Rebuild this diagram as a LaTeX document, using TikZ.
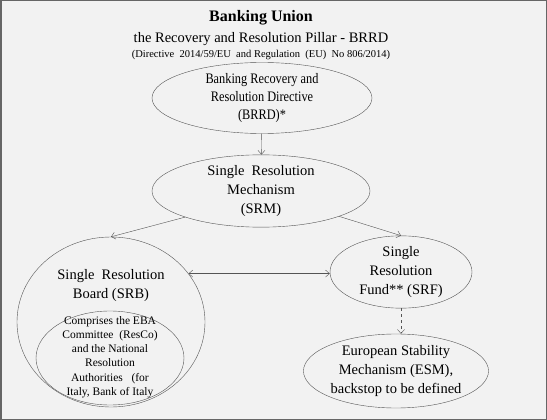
\documentclass[tikz,border=0pt]{standalone}
\usepackage{fontspec}
\setmainfont{Liberation Serif}
\newfontfamily\narrowserif[FakeStretch=0.85]{Liberation Serif}
\usetikzlibrary{shapes.geometric, arrows.meta}

\definecolor{paper}{HTML}{F2F2F2}
\definecolor{edge}{HTML}{555555}

\begin{document}
\begin{tikzpicture}[
    x=1pt, y=-1pt,
    blob/.style={ellipse, draw=edge, fill=paper, inner sep=0pt, align=center,
                 font=\fontsize{14.5}{19}\selectfont},
    small/.style={align=center, font=\fontsize{11.5}{14.2}\selectfont},
    link/.style={-{Straight Barb[length=4pt, width=7pt]}, draw=edge, thin}
]
    % frame and background
    \useasboundingbox (0,0) rectangle (547,420);
    \draw[fill=paper, draw=gray!80!black, line width=1.5pt] (0.75,0.75) rectangle (546.25,419.25);

    % Title (top)
    \node[font=\fontsize{16}{19}\selectfont\bfseries] (title) at (261,18) {Banking Union};
    \node[font=\fontsize{14.5}{17}\selectfont] (subtitle) at (261,39) {the Recovery and Resolution Pillar - BRRD};
    \node[font=\fontsize{10.5}{12}\selectfont] (law) at (261,55) {(Directive\ \ 2014/59/EU\ \ and Regulation\ \ (EU)\ \ No 806/2014)};

    % Ellipses
    \node[blob, minimum width=220, minimum height=71, font=\narrowserif\fontsize{14.5}{18}\selectfont] (brrd) at (262,98)
        {Banking Recovery and\\Resolution Directive\\(BRRD)*};
    \node[blob, minimum width=218, minimum height=71] (srm) at (261,191)
        {Single\ \ Resolution\\Mechanism\\(SRM)};
    \node[blob, minimum width=188, minimum height=170] (srb) at (111,322) {};
    \node[blob, draw=none, fill=none] (srbtext) at (111,286)
        {Single\ \ Resolution\\Board (SRB)};
    \node[blob, minimum width=148, minimum height=94] (inner) at (110,358) {};
    \node[small] (innertext) at (110,357)
        {Comprises the EBA\\Committee\ \ (ResCo)\\and the National\\Resolution\\Authorities\ \ \ (for\\Italy, Bank of Italy};
    \node[blob, minimum width=142, minimum height=71] (srf) at (401,272)
        {Single\\Resolution\\Fund** (SRF)};
    \node[blob, minimum width=178, minimum height=74] (esm) at (396,371)
        {European Stability\\Mechanism (ESM),\\backstop to be defined};

    % Connectors
    \draw[link] (brrd) -- (srm);
    \draw[link] (srm.199) -- (srb.north);
    \draw[link] (srm.342) -- (srf.north);
    \draw[link, {Straight Barb[length=4pt, width=7pt]}-{Straight Barb[length=4pt, width=7pt]}] (srb.32.5) -- (srb.32.5 -| srf.west);
    \draw[link, dashed] (srf.south) -- (srf.south |- esm.north);
\end{tikzpicture}
\end{document}
